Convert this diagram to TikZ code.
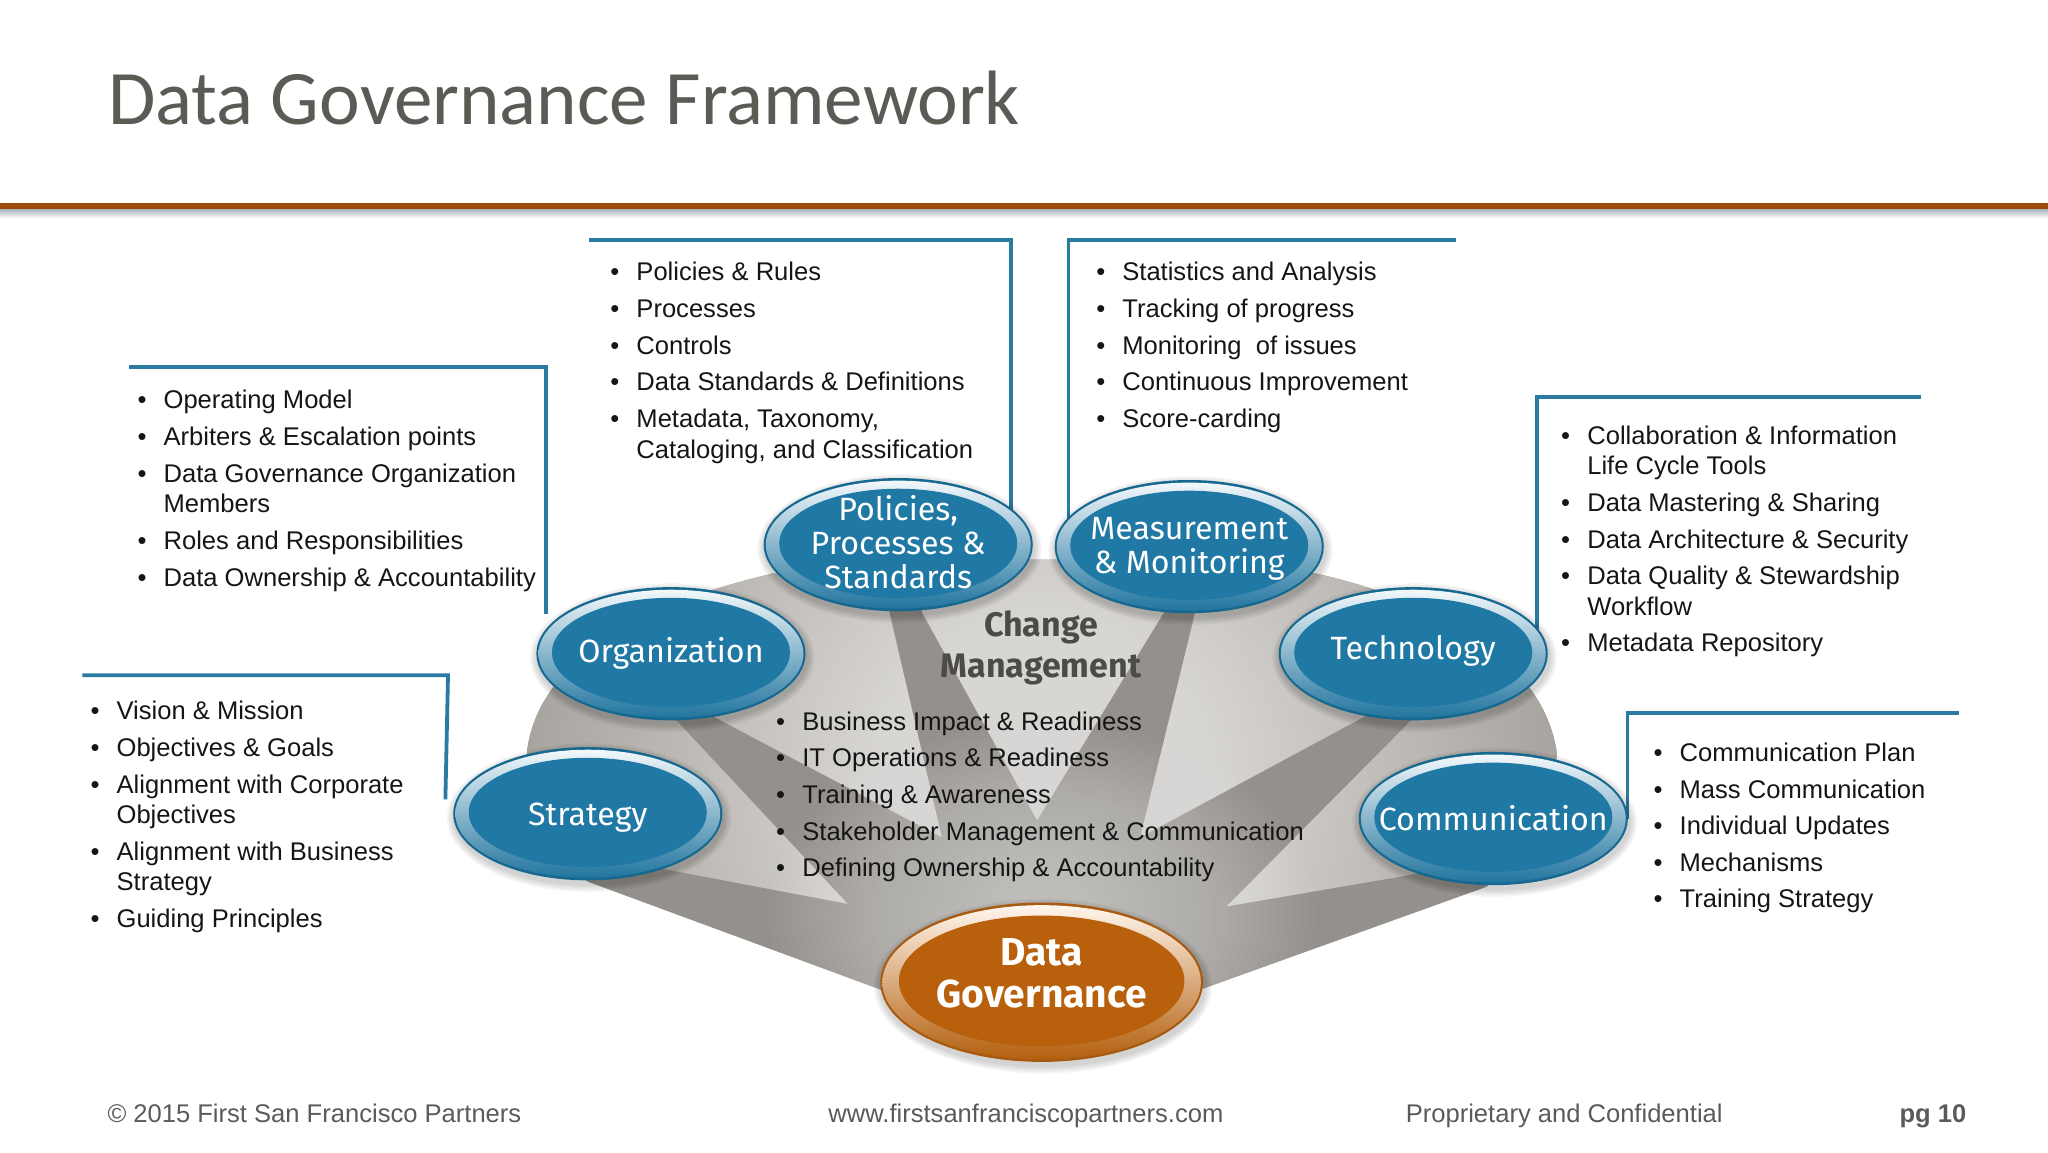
\documentclass[tikz,border=0pt]{standalone}
\usepackage{fontspec}
\setmainfont{Liberation Sans}
\newfontfamily\titlefont{Carlito}
\newfontfamily\ovalfont{Fira Sans}
\usetikzlibrary{shapes.geometric}
\pgfdeclarelayer{bg}
\pgfsetlayers{bg,main}
\definecolor{rulecol}{HTML}{9C4A0A}
\definecolor{ruleshadow}{HTML}{A7B2BA}
\definecolor{framecol}{HTML}{2A7AA2}
\definecolor{titlecol}{HTML}{5B5A55}
\definecolor{footcol}{HTML}{5A5A5A}
\definecolor{bodycol}{HTML}{151515}
\definecolor{cmcol}{HTML}{4D4B47}
\definecolor{fandark}{HTML}{94908B}
\definecolor{fanlight}{HTML}{D8D6D3}
\definecolor{fanouter}{HTML}{A09C97}
\definecolor{blueedge}{HTML}{17688F}
\definecolor{bluetop}{HTML}{F2F8FB}
\definecolor{bluemid}{HTML}{8FBDD2}
\definecolor{bluebot}{HTML}{22759F}
\definecolor{bluecore}{HTML}{2078A4}
\definecolor{orangeedge}{HTML}{A85A10}
\definecolor{orangetop}{HTML}{FFF6EC}
\definecolor{orangemid}{HTML}{E0B080}
\definecolor{orangebot}{HTML}{B4600F}
\definecolor{orangecore}{HTML}{B8600C}
\pgfdeclareradialshading{domeshade}{\pgfpoint{0bp}{0bp}}{color(0bp)=(fanlight);color(7bp)=(fanlight);color(25bp)=(fanouter);color(50bp)=(fanouter)}
\newcommand\bl{\rule{0pt}{10pt}\makebox[13.06pt][l]{•}}
\newcommand\wl{\rule{0pt}{10pt}\hspace*{13.06pt}}
\newcommand\dgf{\bfseries\fontsize{19.5}{21}\selectfont}
\newlength\lgap
\setlength\lgap{2.94pt}
\newcommand\ovalnode[8]{%
  \foreach \k in {1,...,6}{\fill[black,opacity=.03] (#2+1,#3+3) ellipse [x radius={#4+7-\k}, y radius={#5+7-\k}];}
  \fill[#6edge] (#2,#3) ellipse [x radius=#4, y radius=#5];
  \shade[top color=#6top, middle color=#6mid, bottom color=#6bot] (#2,#3) ellipse [x radius={#4-1.6}, y radius={#5-2}];
  \fill[#6core] (#2,#3-1) ellipse [x radius={#4*0.885}, y radius={#5*0.82}];
  \node[ovaltext] (#1) at (#2,#3+#8) {#7};
}
\tikzset{
  x=0.65306pt, y=-0.65306pt,
  ovaltext/.style={shape=ellipse, inner sep=0pt, align=center, text=white, font=\ovalfont\fontsize{16.1}{17}\selectfont},
  framel/.style={draw=framecol, line width=1.9pt, line join=miter},
  listnode/.style={anchor=north west, inner sep=0pt, align=left, text=bodycol, font=\fontsize{12.78}{15.35}\selectfont},
  footnode/.style={anchor=base west, inner sep=0pt, text=footcol, font=\fontsize{12.78}{15}\selectfont},
}
\begin{document}
\begin{tikzpicture}
\useasboundingbox (0,0) rectangle (1568,882);

% title and rule
\node[anchor=base west, inner sep=0pt, text=titlecol, font=\titlefont\fontsize{38.55}{46}\selectfont] (title) at (82.5,95.5) {Data Governance Framework};
\shade[top color=ruleshadow, bottom color=white] (0,160) rectangle (1568,167);
\fill[rulecol] (0,155.5) rectangle (1568,160);

% fan
\begin{pgfonlayer}{bg}
\def\fanpath{(675,758) -- (450,675) -- (410,640) -- (403.5,575) .. controls (412,510) and (480,465) .. (592,439) .. controls (660,425) and (940,425) .. (1007,439) .. controls (1110,462) and (1183,510) .. (1192,577) -- (1185,640) -- (1138,679) -- (921,757) -- cycle}
\fill[fandark] \fanpath;
\begin{scope}
  \clip \fanpath;
  \clip (649,692) -- (480,660) -- (380,620) -- (380,480) -- (480,511) -- cycle
        (721,641) -- (547,549) -- (510,529) -- (450,400) -- (680,380) -- (681,469) -- cycle
        (706,469) -- (794,628) -- (891,469) -- (900,380) -- (700,380) -- cycle
        (915,469) -- (873,641) -- (1044,549) -- (1080,520) -- (1150,400) -- (915,380) -- cycle
        (1079,553) -- (939,694) -- (1079,670) -- (1120,660) -- (1220,620) -- (1220,480) -- (1110,522) -- cycle;
  \shade[shading=domeshade] (798,600) circle [radius=440];
\end{scope}
\begin{scope}
  \clip \fanpath;
  \foreach \r in {1,...,30}{\fill[white,opacity=.022] (798,700) ellipse [x radius={215-\r*6}, y radius={150-\r*4}];}
\end{scope}
% frames
\coordinate (f1a) at (99,281);
\coordinate (f1b) at (418,281);
\coordinate (f1c) at (418,470);
\coordinate (f2a) at (451,184);
\coordinate (f2b) at (774,184);
\coordinate (f3a) at (1115,184);
\coordinate (f3b) at (818,184);
\coordinate (f4a) at (1471,304);
\coordinate (f4b) at (1177,304);
\coordinate (f5a) at (1500,546);
\coordinate (f5b) at (1246,546);
\coordinate (f6a) at (63,517);
\coordinate (f6b) at (343,517);
\coordinate (f6c) at (341,612);
\end{pgfonlayer}

% ovals
\ovalnode{str}{450}{623}{103}{51}{blue}{Strategy}{3}
\ovalnode{org}{513.7}{500.5}{103}{51}{blue}{Organization}{0}
\ovalnode{pol}{687.7}{417}{103}{51}{blue}{Policies,\\Processes \&\\Standards}{-2}
\ovalnode{mea}{910.5}{418.5}{103}{51}{blue}{Measurement\\\& Monitoring}{2}
\ovalnode{tec}{1082}{500.5}{103}{51}{blue}{Technology}{-2}
\ovalnode{com}{1143.3}{626.7}{103}{51}{blue}{Communication}{0}
\ovalnode{dg}{797.5}{752}{123.5}{61}{orange}{\dgf Data\\[4pt]\dgf Governance}{-7}

\begin{pgfonlayer}{bg}
\draw[framel] (f1a) -- (f1b) -- (f1c);
\draw[framel] (f2a) -- (f2b) -- (f2b |- pol.center);
\draw[framel] (f3a) -- (f3b) -- (f3b |- mea.center);
\draw[framel] (f4a) -- (f4b) -- (f4b |- tec.center);
\draw[framel] (f5a) -- (f5b) -- (f5b |- com.center);
\draw[framel] (f6a) -- (f6b) -- (f6c);
\end{pgfonlayer}

\node[inner sep=0pt, align=center, text=cmcol, font=\ovalfont\bfseries\fontsize{17}{20.3}\selectfont] (cm) at (797,496) {Change\\Management};

% lists
\node[listnode] (l1) at (105,297.5) {\bl Operating Model\\[\lgap]\bl Arbiters \& Escalation points\\[\lgap]\bl Data Governance Organization\\\wl Members\\[\lgap]\bl Roles and Responsibilities\\[\lgap]\bl Data Ownership \& Accountability};
\node[listnode] (l2) at (467,199.5) {\bl Policies \& Rules\\[\lgap]\bl Processes\\[\lgap]\bl Controls\\[\lgap]\bl Data Standards \& Definitions\\[\lgap]\bl Metadata, Taxonomy,\\\wl Cataloging, and Classification};
\node[listnode] (l3) at (839,199.5) {\bl Statistics and Analysis\\[\lgap]\bl Tracking of progress\\[\lgap]\bl Monitoring\ \ of issues\\[\lgap]\bl Continuous Improvement\\[\lgap]\bl Score-carding};
\node[listnode] (l4) at (1195,324.5) {\bl Collaboration \& Information\\\wl Life Cycle Tools\\[\lgap]\bl Data Mastering \& Sharing\\[\lgap]\bl Data Architecture \& Security\\[\lgap]\bl Data Quality \& Stewardship\\\wl Workflow\\[\lgap]\bl Metadata Repository};
\node[listnode] (l5) at (1265.7,567.5) {\bl Communication Plan\\[\lgap]\bl Mass Communication\\[\lgap]\bl Individual Updates\\[\lgap]\bl Mechanisms\\[\lgap]\bl Training Strategy};
\node[listnode] (l6) at (69,535.5) {\bl Vision \& Mission\\[\lgap]\bl Objectives \& Goals\\[\lgap]\bl Alignment with Corporate\\\wl Objectives\\[\lgap]\bl Alignment with Business\\\wl Strategy\\[\lgap]\bl Guiding Principles};
\node[listnode] (l7) at (594,543.5) {\bl Business Impact \& Readiness\\[\lgap]\bl IT Operations \& Readiness\\[\lgap]\bl Training \& Awareness\\[\lgap]\bl Stakeholder Management \& Communication\\[\lgap]\bl Defining Ownership \& Accountability};

% footer
\node[footnode] (foot1) at (82,859.7) {© 2015 First San Francisco Partners};
\node[footnode] (foot2) at (634,859.7) {www.firstsanfranciscopartners.com};
\node[footnode] (foot3) at (1076,859.7) {Proprietary and Confidential};
\node[footnode, font=\bfseries\fontsize{12.78}{15}\selectfont] (foot4) at (1454,859.7) {pg 10};
\end{tikzpicture}
\end{document}
